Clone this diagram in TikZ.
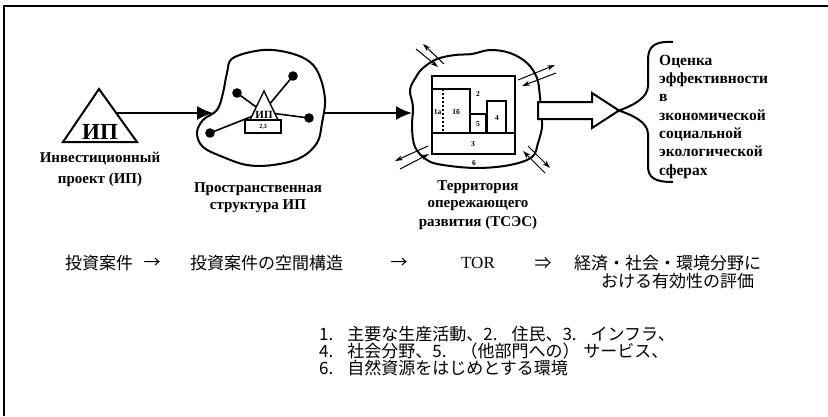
\documentclass[tikz,border=0pt]{standalone}
\usepackage{fontspec}
\setmainfont{Liberation Serif}
\newfontfamily\jp{Noto Sans CJK JP}
\usetikzlibrary{arrows.meta,calc}
\newcommand\jgap{\hspace{14pt}}
\begin{document}
\begin{tikzpicture}[x=1pt,y=-1pt,
  blob/.style={line width=2pt, line join=round},
  flow/.style={line width=1.8pt,-{Latex[length=16pt,width=14pt]}},
  xarr/.style={line width=1pt,-{Stealth[length=8pt,width=5pt]}},
  rulab/.style={font=\fontsize{15}{17}\selectfont\bfseries, inner sep=0pt, anchor=base},
  rulabw/.style={font=\fontsize{15.5}{17}\selectfont\bfseries, inner sep=0pt, anchor=base west},
  tiny/.style={font=\fontsize{7.5}{8}\selectfont\bfseries, inner sep=0pt},
  jptext/.style={font=\jp\fontsize{17}{19}\selectfont, inner sep=0pt, anchor=west},
  jpc/.style={font=\jp\fontsize{17}{19}\selectfont, inner sep=0pt},
  dot/.style={circle, fill=black, inner sep=0pt, minimum size=9.6pt},
]
\useasboundingbox (0,0) rectangle (828,416);
% frame
\draw[line width=1.5pt] (4,416) -- (4,6) -- (828,6);

% ---- stage 1: triangle
\draw[line width=2pt, line join=miter] (99,89) -- (137,142) -- (63,142) -- cycle;
\node[font=\fontsize{23}{23}\selectfont\bfseries, inner sep=0pt] (ip) at (100,131.5) {ИП};
\coordinate (s1) at (117,113);
\node[rulab] (l1a) at (100,162) {Инвестиционный};
\node[rulab] (l1b) at (100,183) {проект (ИП)};

% ---- stage 2: spatial structure
\draw[blob] plot[smooth cycle, tension=0.6] coordinates {(233,58) (263,50) (290,53) (310,62) (320,77) (325,100) (322,123) (317,143) (300,158) (273,165) (247,165) (223,157) (203,147) (197,133) (203,120) (217,110) (223,93) (227,73)};
\coordinate (c2) at (263,112);
\node[dot] (d1) at (237,93) {};
\node[dot] (d2) at (293,76) {};
\node[dot] (d3) at (309,118) {};
\node[dot] (d4) at (210,133) {};
\foreach \n in {d1,d2,d3,d4}
  \draw[line width=1.6pt] (\n.center) -- (c2);
\filldraw[fill=white, line width=1.4pt] (250,120) -- (264,91) -- (278,120) -- cycle;
\filldraw[fill=white, line width=1.4pt] (245,120) rectangle (281,133);
\node[font=\fontsize{11}{11}\selectfont\bfseries, inner sep=0pt] (ip2) at (264,115) {ИП};
\node[font=\fontsize{6}{6}\selectfont\bfseries, inner sep=0pt] (n23) at (263,127) {2,3};
\coordinate (e2l) at (213,113);
\coordinate (e2r) at (324,113);
\node[rulab] (l2a) at (258,192) {Пространственная};
\node[rulab] (l2b) at (258,209) {структура ИП};

% ---- stage 3: TSES territory
\draw[blob] plot[smooth cycle, tension=0.6] coordinates {(423,68) (437,59) (455,55) (472,54) (490,50) (510,53) (527,63) (537,78) (540,97) (541,112) (542,127) (538,143) (532,157) (510,165) (477,168) (443,165) (427,160) (415,147) (412,127) (413,107) (410,90) (416,77)};
\coordinate (e3l) at (412,113);
\begin{scope}[line width=1.3pt]
  \draw (432,76) rectangle (515,154);
  \draw (432,133) -- (515,133);
  \draw (432,89) -- (470,89) -- (470,133);
  \draw (470,114) -- (486,114) -- (486,133);
  \draw (487,133) -- (487,101) -- (506,101) -- (506,133);
  \draw[dash pattern=on 2pt off 2pt] (443,89) -- (443,133);
\end{scope}
\node[tiny] (t1a) at (437.5,112) {1а};
\node[tiny] (t1b) at (456,112) {1б};
\node[tiny] (t2) at (478,94) {2};
\node[tiny] (t5) at (478,124) {5};
\node[tiny] (t4) at (497,118) {4};
\node[tiny] (t3) at (473,144) {3};
\node[tiny] (t6) at (474,163) {6};
% exchange arrows
\coordinate (tlo1) at (444,64); \coordinate (tlo2) at (423,44);
\coordinate (tli1) at (416,49); \coordinate (tli2) at (438,67);
\coordinate (tro1) at (518,80); \coordinate (tro2) at (555,65);
\coordinate (tri1) at (556,73); \coordinate (tri2) at (522,86);
\coordinate (blo1) at (428,146); \coordinate (blo2) at (395,161);
\coordinate (bli1) at (400,169); \coordinate (bli2) at (429,154);
\coordinate (bro1) at (528,146); \coordinate (bro2) at (550,168);
\coordinate (bri1) at (545,173); \coordinate (bri2) at (523,151);
\foreach \a/\b in {tlo1/tlo2,tli1/tli2,tro1/tro2,tri1/tri2,blo1/blo2,bli1/bli2,bro1/bro2,bri1/bri2}
  \draw[xarr] (\a) -- (\b);
\node[rulab] (l3a) at (478,190) {Территория};
\node[rulab] (l3b) at (478,207) {опережающего};
\node[rulab] (l3c) at (478,226) {развития (ТСЭС)};

% flow arrows
\draw[flow] (s1) -- (e2l);
\draw[flow] (e2r) -- (e3l);

% big hollow arrow
\draw[line width=2pt, line join=miter, fill=white] (538,102) -- (592,102) -- (592,93) -- (619,110.5) -- (592,128) -- (592,119) -- (538,119) -- cycle;
\coordinate (tip) at (619,110.5);
% brace
\draw[line width=2pt] (673,42) .. controls (655,41) and (648,46) .. (648,60) -- (648,86)
  .. controls (648,98) and (632,106) .. (tip)
  .. controls (632,115) and (648,122) .. (648,134) -- (648,166)
  .. controls (648,178) and (655,182) .. (673,182);

% right text
\node[rulabw] (r1) at (659,65) {Оценка};
\node[rulabw] (r2) at (659,83.3) {эффективности};
\node[rulabw] (r3) at (659,101.6) {в};
\node[rulabw] (r4) at (659,120) {зкономической};
\node[rulabw] (r5) at (659,138.3) {социальной};
\node[rulabw] (r6) at (659,156.6) {экологической};
\node[rulabw] (r7) at (659,175) {сферах};

% ---- Japanese rows
\node[jptext] (j1) at (65,263) {投資案件};
\node[jpc] (ja1) at (152,263) {→};
\node[jptext] (j2) at (190,263) {投資案件の空間構造};
\node[jpc] (ja2) at (399,263) {→};
\node[jpc, font=\fontsize{17}{19}\selectfont] (j3) at (478,263) {TOR};
\node[jpc] (ja3) at (543,263) {⇒};
\node[jptext] (j4a) at (574,263) {経済・社会・環境分野に};
\node[jptext] (j4b) at (601,281) {おける有効性の評価};

\node[jptext] (k1) at (319,334) {1.\jgap 主要な生産活動、2.\jgap 住民、3.\jgap インフラ、};
\node[jptext] (k2) at (319,351) {4.\jgap 社会分野、5.\jgap （他部門への） サービス、};
\node[jptext] (k3) at (319,368) {6.\jgap 自然資源をはじめとする環境};
\end{tikzpicture}
\end{document}
